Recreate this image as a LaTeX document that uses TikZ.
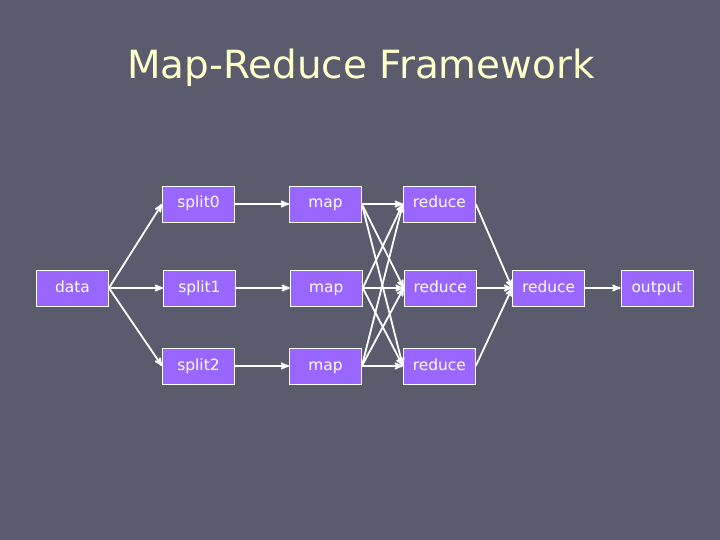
\documentclass[tikz,border=0pt]{standalone}
\usepackage{fontspec}
\setmainfont{DejaVu Sans}
\usepackage{xcolor}
\usetikzlibrary{arrows}
\usetikzlibrary{positioning}

\definecolor{slidebg}{HTML}{5A5C6D}
\definecolor{boxfill}{HTML}{9966FF}
\definecolor{titleyellow}{HTML}{FFFFCC}

\begin{document}
\begin{tikzpicture}[x=1bp,y=-1bp,>=stealth',line width=1.8bp,white,
                        main node/.style={rectangle,draw=white,line width=0.9bp,fill=boxfill,text=white,
                        minimum width=72bp,minimum height=36bp,inner sep=0pt,text height=11.5bp,text depth=3.5bp,
                        font=\fontsize{15.5}{18}\selectfont}]

      \fill[slidebg] (0,0) rectangle (720,540);
      \useasboundingbox (0,0) rectangle (720,540);

      \node[text=titleyellow,anchor=base,font=\fontsize{39}{44}\selectfont] (title) at (361,79) {Map-Reduce Framework};

      \node[main node] (data) at (72.5,288) {data};
      \node[main node] (s1) [right=54bp of data] {split1};
      \node[main node] (s0) at (198.5,204) {split0};
      \node[main node] (s2) at (198.5,366) {split2};
      \node[main node] (m0) [right=54bp of s0] {map};
      \node[main node] (m1) [right=54bp of s1] {map};
      \node[main node] (m2) [right=54bp of s2] {map};
      \node[main node] (r0) [right=41bp of m0] {reduce};
      \node[main node] (r1) [right=41bp of m1] {reduce};
      \node[main node] (r2) [right=41bp of m2] {reduce};
      \node[main node] (final) [right=35.5bp of r1] {reduce};
      \node[main node] (out) [right=35.5bp of final] {output};

      \foreach \i in {0,1,2} {
        \draw[->] (data.east) -- (s\i.west);
        \draw[->] (s\i) -- (m\i);
        \foreach \j in {0,1,2}
          \draw[->] (m\i.east) -- (r\j.west);
        \draw[->] (r\i.east) -- (final.west);
      }
      \draw[->] (final) -- (out);
    \end{tikzpicture}
\end{document}
